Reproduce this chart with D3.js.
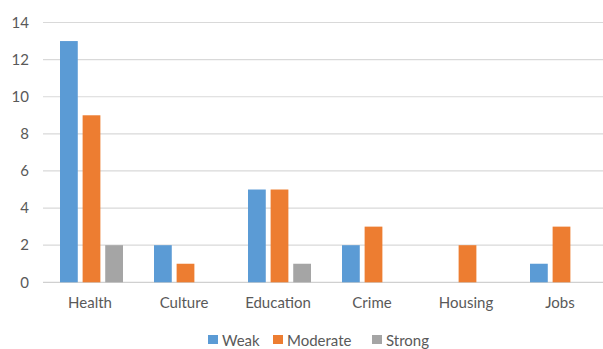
<!DOCTYPE html>
<html>
<head>
<meta charset="utf-8">
<script src="https://cdn.jsdelivr.net/npm/d3@7"></script>
<style>
  html, body { margin: 0; padding: 0; background: #fff; }
  svg { display: block; }
  text { font-family: Lato, "Open Sans", sans-serif; fill: #595959; }
</style>
</head>
<body>
<svg id="chart" width="603" height="349"></svg>
<script>
// Data
const categories = ["Health", "Culture", "Education", "Crime", "Housing", "Jobs"];
const seriesNames = ["Weak", "Moderate", "Strong"];
const weak     = [13, 2, 5, 2, 0, 1];
const moderate = [9, 1, 5, 3, 2, 3];
const strong   = [2, 0, 1, 0, 0, 0];
const yTicks   = [0, 2, 4, 6, 8, 10, 12, 14];
const colors   = ["#5B9BD5", "#ED7D31", "#A5A5A5"];

const seriesValues = [weak, moderate, strong];

const svg = d3.select("#chart");
const plot = { left: 43, right: 607, top: 22.5, bottom: 282.3 };

const x = d3.scaleBand()
  .domain(categories)
  .range([plot.left, plot.right])
  .paddingInner(0)
  .paddingOuter(0);

const groupInner = 63; // width occupied by the three bars incl. gaps
const xSub = d3.scaleBand()
  .domain(seriesNames)
  .range([0, groupInner])
  .paddingInner(4.5 / 21)
  .paddingOuter(0);

const y = d3.scaleLinear()
  .domain([0, 14])
  .range([plot.bottom, plot.top]);

// Gridlines
svg.append("g")
  .selectAll("line")
  .data(yTicks)
  .join("line")
  .attr("x1", plot.left)
  .attr("x2", plot.right)
  .attr("y1", d => y(d))
  .attr("y2", d => y(d))
  .attr("stroke", d => d === 0 ? "#d0d0d0" : "#d9d9d9")
  .attr("stroke-width", 1.2);

// Y axis labels
const yAxis = d3.axisLeft(y).tickValues(yTicks).tickSize(0).tickPadding(14);
const yG = svg.append("g")
  .attr("transform", `translate(${plot.left},0)`)
  .call(yAxis);
yG.select(".domain").remove();
yG.selectAll("text")
  .style("font-size", "15px")
  .style("font-family", "Lato, 'Open Sans', sans-serif")
  .attr("fill", "#595959");

// Bars
const groups = svg.append("g")
  .selectAll("g")
  .data(categories)
  .join("g")
  .attr("transform", c => `translate(${x(c) + (x.bandwidth() - groupInner) / 2 + 1.5},0)`);

groups.selectAll("rect")
  .data((c, i) => seriesNames.map((s, j) => ({ s, j, v: seriesValues[j][i] })))
  .join("rect")
  .filter(d => d.v > 0)
  .attr("x", d => xSub(d.s))
  .attr("width", xSub.bandwidth())
  .attr("y", d => y(d.v))
  .attr("height", d => y(0) - y(d.v))
  .attr("fill", d => colors[d.j]);

// X axis labels
const xAxis = d3.axisBottom(x).tickSize(0).tickPadding(0);
const xG = svg.append("g")
  .attr("transform", `translate(0,${plot.bottom})`)
  .call(xAxis);
xG.select(".domain").remove();
xG.selectAll("text")
  .attr("dy", null)
  .attr("y", 26)
  .style("font-size", "15px")
  .style("font-family", "Lato, 'Open Sans', sans-serif")
  .attr("fill", "#595959");

// Legend
const legendX = [208, 273, 372];
const legend = svg.append("g")
  .selectAll("g")
  .data(seriesNames)
  .join("g")
  .attr("transform", (d, i) => `translate(${legendX[i]},0)`);
legend.append("rect")
  .attr("x", 0).attr("y", 335)
  .attr("width", 10).attr("height", 9)
  .attr("fill", (d, i) => colors[i]);
legend.append("text")
  .attr("x", 14).attr("y", 345.5)
  .style("font-size", "15px")
  .text(d => d);
</script>
</body>
</html>
